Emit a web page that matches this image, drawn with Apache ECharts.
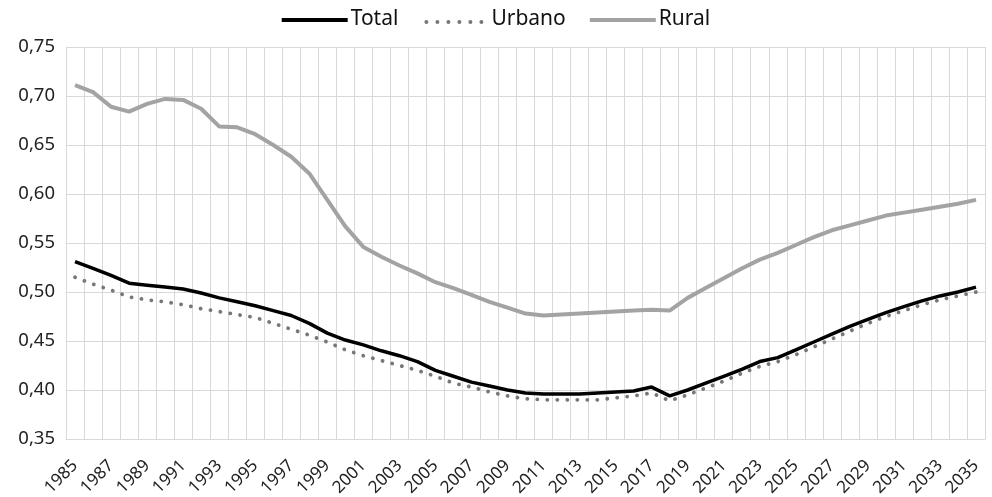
<!DOCTYPE html>
<html>
<head>
<meta charset="utf-8">
<script src="https://cdn.jsdelivr.net/npm/echarts@6/dist/echarts.min.js"></script>
<style>html,body{margin:0;padding:0;background:#fff}#c{width:992px;height:497px}</style>
</head>
<body>
<div id="c"></div>
<script>
var years = [];
for (var y = 1985; y <= 2035; y++) years.push(String(y));

var total = [0.531,0.524,0.517,0.509,0.507,0.505,0.503,0.499,0.494,0.490,0.486,0.481,0.476,0.468,0.458,0.451,0.446,0.440,0.435,0.429,0.420,0.414,0.408,0.404,0.400,0.397,0.396,0.396,0.396,0.397,0.398,0.399,0.403,0.394,0.400,0.407,0.414,0.421,0.429,0.433,0.441,0.449,0.457,0.465,0.472,0.479,0.485,0.491,0.496,0.500,0.505];
var urbano = [0.515,0.508,0.502,0.495,0.492,0.490,0.487,0.483,0.480,0.477,0.474,0.468,0.462,0.456,0.449,0.441,0.435,0.430,0.425,0.420,0.414,0.407,0.403,0.398,0.394,0.391,0.390,0.390,0.390,0.390,0.392,0.394,0.397,0.389,0.395,0.402,0.409,0.417,0.424,0.429,0.436,0.444,0.452,0.460,0.468,0.475,0.481,0.487,0.492,0.496,0.500];
var rural = [0.711,0.704,0.689,0.684,0.692,0.697,0.696,0.687,0.669,0.668,0.661,0.650,0.638,0.621,0.594,0.567,0.546,0.536,0.527,0.519,0.510,0.504,0.497,0.490,0.484,0.478,0.476,0.477,0.478,0.479,0.480,0.481,0.482,0.481,0.494,0.504,0.514,0.524,0.533,0.540,0.548,0.556,0.563,0.568,0.573,0.578,0.581,0.584,0.587,0.590,0.594];

var yTicks = ['0,35','0,40','0,45','0,50','0,55','0,60','0,65','0,70','0,75'];

var font = 'Noto Sans';
var chart = echarts.init(document.getElementById('c'));
chart.setOption({
  animation: false,
  textStyle: {fontFamily: font},
  legend: {
    top: 4,
    left: 'center',
    itemWidth: 66,
    itemHeight: 14,
    itemGap: 24,
    textStyle: {fontSize: 21, color: '#111', fontFamily: font, padding: [0, 0, 0, -2]},
    data: [
      {name: 'Total', icon: 'path://M0,5.5 L66,5.5 L66,9.5 L0,9.5 Z M0,0 L0.01,0 M66,14 L66.01,14', itemStyle: {color: '#000'}},
      {name: 'Urbano', icon: 'path://M4,7.5 a2,2 0 1,0 0.01,0 M15,7.5 a2,2 0 1,0 0.01,0 M26,7.5 a2,2 0 1,0 0.01,0 M37,7.5 a2,2 0 1,0 0.01,0 M48,7.5 a2,2 0 1,0 0.01,0 M59,7.5 a2,2 0 1,0 0.01,0 M0,0 L0.01,0 M66,14 L66.01,14', itemStyle: {color: '#777'}},
      {name: 'Rural', icon: 'path://M0,5.5 L66,5.5 L66,9.5 L0,9.5 Z M0,0 L0.01,0 M66,14 L66.01,14', itemStyle: {color: '#a3a3a3'}}
    ]
  },
  grid: {left: 66, right: 7, top: 47, bottom: 58, containLabel: false, outerBoundsMode: 'none'},
  xAxis: {
    type: 'category',
    data: years,
    boundaryGap: true,
    axisLine: {show: true, lineStyle: {color: '#d9d9d9'}},
    axisTick: {show: false},
    splitLine: {show: true, interval: 0, lineStyle: {color: '#d9d9d9', width: 1}},
    axisLabel: {interval: 1, rotate: 45, fontSize: 17, color: '#222', margin: 24, fontFamily: font}
  },
  yAxis: {
    type: 'value',
    min: 0.35,
    max: 0.75,
    interval: 0.05,
    axisLine: {show: false},
    axisTick: {show: false},
    splitLine: {lineStyle: {color: '#d9d9d9', width: 1}},
    axisLabel: {
      fontSize: 18.5, color: '#222', margin: 11, fontFamily: font,
      formatter: function (v) { return yTicks[Math.round((v - 0.35) / 0.05)]; }
    }
  },
  series: [
    {name: 'Total', type: 'line', data: total, symbol: 'none', z: 4,
     lineStyle: {color: '#000', width: 3.5}, itemStyle: {color: '#000'}},
    {name: 'Urbano', type: 'line', data: urbano, symbol: 'none', z: 3,
     lineStyle: {color: '#777', width: 3.8, type: [0.1, 9.9], cap: 'round'}, itemStyle: {color: '#777'}},
    {name: 'Rural', type: 'line', data: rural, symbol: 'none', z: 2,
     lineStyle: {color: '#a3a3a3', width: 4}, itemStyle: {color: '#a3a3a3'}}
  ]
});
</script>
</body>
</html>
